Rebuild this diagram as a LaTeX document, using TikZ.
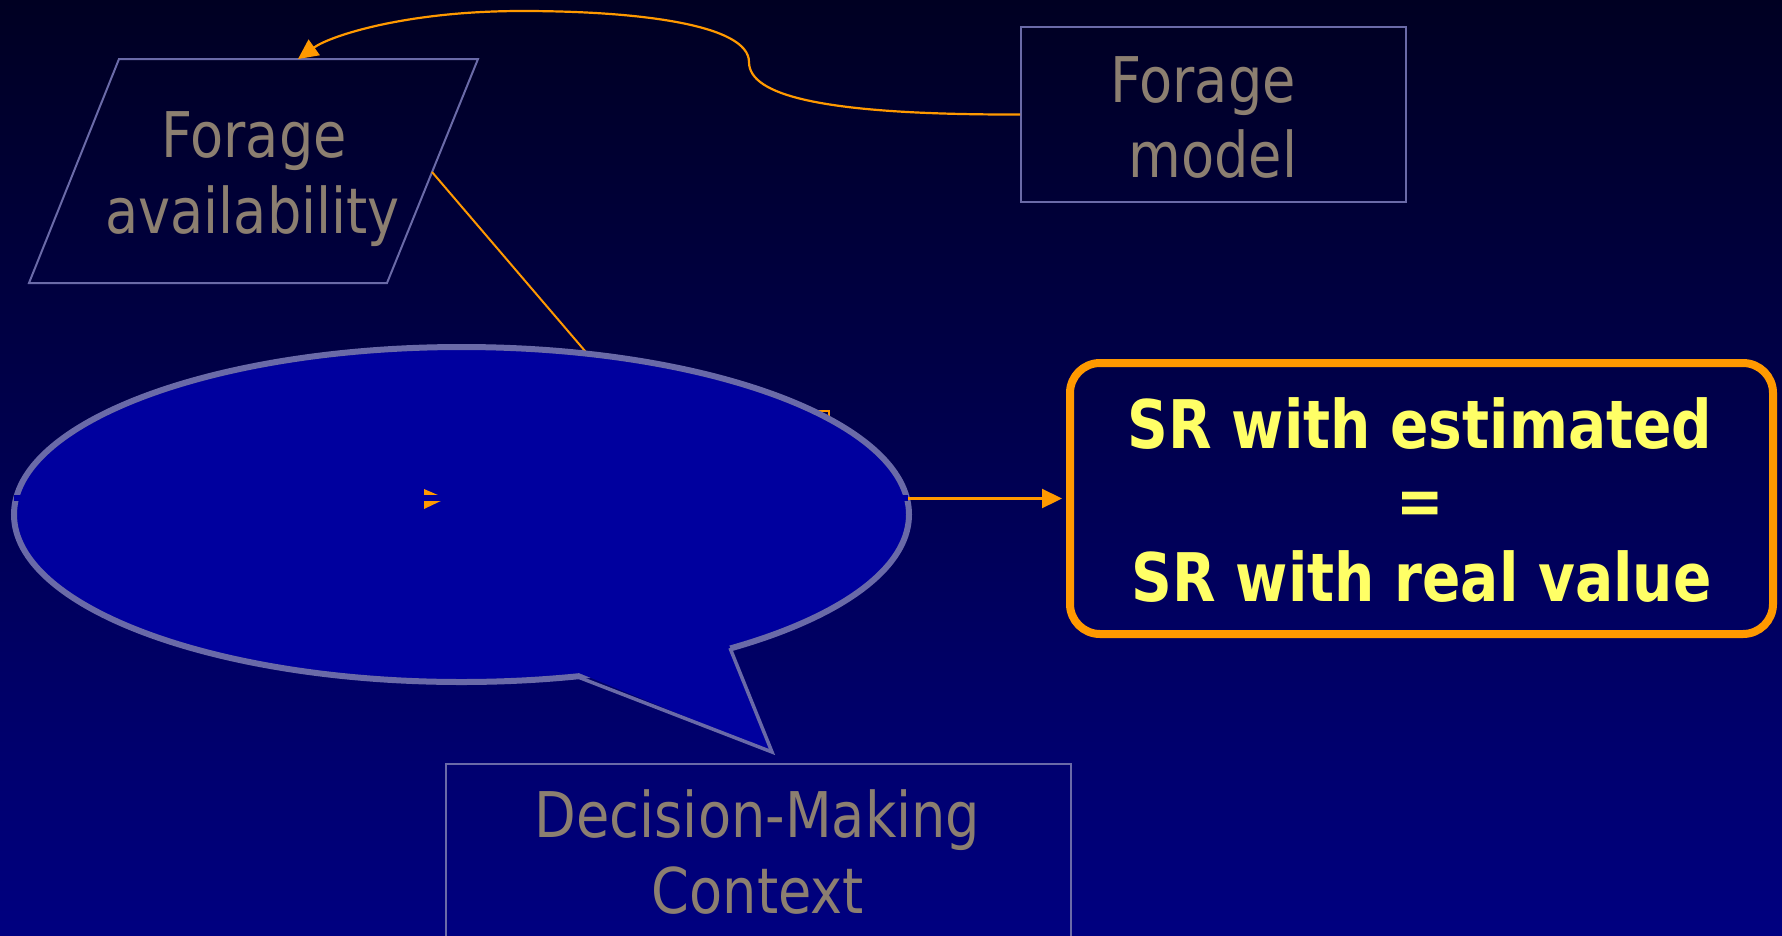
\documentclass[tikz,border=0pt]{standalone}
\usepackage{fontspec}
\setmainfont{DejaVu Sans}
\newfontfamily\lblfont[FakeStretch=0.86]{DejaVu Sans}
\newfontfamily\srfont[FakeStretch=0.845]{DejaVu Sans}
\usetikzlibrary{arrows.meta,shapes.geometric}
\definecolor{bgtop}{RGB}{0,0,34}
\definecolor{bgbot}{RGB}{0,0,128}
\definecolor{edgec}{RGB}{106,106,168}
\definecolor{bubfill}{RGB}{0,0,158}
\definecolor{lbltext}{RGB}{140,127,112}
\definecolor{orng}{RGB}{255,153,0}
\definecolor{srtext}{RGB}{255,255,102}
\begin{document}
\begin{tikzpicture}[x=1pt,y=-1pt,
 lbl/.style={font=\lblfont\fontsize{63}{76}\selectfont, text=lbltext, inner sep=0pt, anchor=base},
 srlbl/.style={font=\srfont\bfseries\fontsize{67}{76}\selectfont, text=srtext, inner sep=0pt, anchor=base},
 frame/.style={draw=edgec, line width=2pt, inner sep=0pt},
 conn/.style={draw=orng, line width=2.2pt},
 tipped/.style={-{Triangle[length=20pt,width=19pt]}}]
\shade[top color=bgtop,bottom color=bgbot] (0,0) rectangle (1782,935);
\useasboundingbox (0,0) rectangle (1782,935);
\clip (0,0) rectangle (1782,935);

% Forage availability (parallelogram)
\coordinate (faA) at (119,59);
\coordinate (faB) at (478,59);
\coordinate (faC) at (387,283);
\coordinate (faD) at (29,283);
\coordinate (faTop) at (298,59);
\coordinate (faRight) at (432,172);
\draw[draw=edgec, line width=2pt] (faA) -- (faB) -- (faC) -- (faD) -- cycle;
\node[lbl] (fa1) at (254,157) {Forage};
\node[lbl] (fa2) at (252.5,233) {availability};

% Forage model
\node[frame, minimum width=385pt, minimum height=175pt] (fm) at (1213.5,114.5) {};
\node[lbl] (fm1) at (1203,102) {Forage};
\node[lbl] (fm2) at (1213,177) {model};

\draw[conn, tipped] (fm.west) .. controls (820,115) and (749,95) .. (749,62)
  .. controls (749,25) and (640,11) .. (522,11)
  .. controls (405,11) and (330,36) .. (faTop);

% hidden connectors behind the bubble
\coordinate (hid1) at (644,420);
\draw[conn, line width=2pt] (faRight) -- (hid1);
\coordinate (hrL) at (700,411);
\coordinate (hrTR) at (829,411);
\coordinate (hrB) at (829,470);
\draw[conn, line width=2pt] (hrL) -- (hrTR) -- (hrB);

% speech bubble
\node[ellipse, draw=edgec, fill=bubfill, line width=6pt, minimum width=895pt, minimum height=335pt, inner sep=0pt] (bub) at (461.5,514.5) {};
\coordinate (tl) at (578,677);
\coordinate (tt) at (772,752);
\coordinate (tr) at (730,648);
\fill[bubfill] (574,671) -- (tt) -- (729,645) -- cycle;
\draw[edgec, line width=3.5pt, line join=miter] (tl) -- (tt) -- (tr);

% small arrowhead remnant and band
\fill[orng] (424,489) -- (446,498.5) -- (424,509) -- cycle;
\fill[bubfill] (14,495) rectangle (908,500.6);

% SR box
\node[draw=orng, line width=8pt, rounded corners=30pt, minimum width=703pt, minimum height=271pt, inner sep=0pt] (sr) at (1421.5,498.5) {};
\coordinate (bubE) at (908,498.5);
\draw[conn, tipped, shorten >=4pt] (bubE) -- (sr.west);
\node[srlbl] (sr1) at (1420,448) {SR with estimated};
\node[srlbl] (sr2) at (1420,524.5) {=};
\node[srlbl] (sr3) at (1421.5,601) {SR with real value};

% Decision-Making Context
\node[frame, minimum width=625pt, minimum height=260pt, anchor=north west] (dm) at (445,763) {};
\node[lbl] (dm1) at (757.5,837) {Decision-Making};
\node[lbl] (dm2) at (758,913) {Context};
\end{tikzpicture}
\end{document}
